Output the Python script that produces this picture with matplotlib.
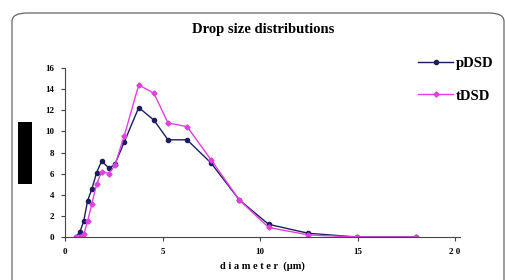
import matplotlib.pyplot as plt
from matplotlib.patches import FancyBboxPatch, Rectangle

# values
diameter = [0.56, 0.77, 0.96, 1.16, 1.37, 1.62, 1.88, 2.26, 2.56, 3.04, 3.78,
            4.56, 5.28, 6.26, 7.49, 8.94, 10.44, 12.48, 14.96, 17.97]
pdsd = [0.0, 0.5, 1.5, 3.45, 4.5, 6.1, 7.2, 6.5, 6.9, 9.0, 12.26,
        11.06, 9.2, 9.2, 7.0, 3.5, 1.2, 0.35, 0.0, 0.0]
tdsd = [0.0, 0.0, 0.25, 1.5, 3.1, 5.0, 6.2, 6.0, 6.8, 9.6, 14.4,
        13.6, 10.8, 10.45, 7.3, 3.5, 0.9, 0.2, 0.0, 0.0]
x_ticks = [0, 5, 10, 15, 20]
x_ticklabels = ["0", "5", "10", "15", "2 0"]
y_ticks = [0, 2, 4, 6, 8, 10, 12, 14, 16]

plt.rcParams['font.family'] = ['Liberation Serif', 'DejaVu Serif']

fig = plt.figure(figsize=(5.06, 2.80), dpi=100)
fig.patch.set_facecolor('white')

# rounded chart frame
frame = FancyBboxPatch((12 / 506, -0.05), 492 / 506, 1 - 13 / 280 + 0.05,
                       boxstyle="round,pad=0,rounding_size=0.03",
                       transform=fig.transFigure, fill=False,
                       edgecolor='#666666', linewidth=0.9)
fig.patches.append(frame)

# black box over the y-axis title
fig.patches.append(Rectangle((18 / 506, 1 - 184 / 280), 14 / 506, 62 / 280,
                             transform=fig.transFigure, facecolor='black',
                             edgecolor='none'))

ax = fig.add_axes([65 / 506, 1 - 237 / 280, 395 / 506, 169 / 280])

ax.plot(diameter, pdsd, color='#1c1c5e', marker='o', markersize=3.0,
        linewidth=1.0, label='pDSD')
ax.plot(diameter, tdsd, color='#e040e0', marker='D', markersize=2.6,
        linewidth=1.0, label='tDSD')

ax.set_xlim(0, 20.25)
ax.set_ylim(0, 16)
ax.set_xticks(x_ticks)
ax.set_xticklabels(x_ticklabels)
ax.set_yticks(y_ticks)
for lab in ax.get_xticklabels() + ax.get_yticklabels():
    lab.set_fontweight('bold')
    lab.set_fontsize(6.5)
ax.tick_params(axis='both', length=3, width=0.8, color='#444444', pad=5)
ax.spines['top'].set_visible(False)
ax.spines['right'].set_visible(False)
ax.spines['left'].set_color('#444444')
ax.spines['bottom'].set_color('#444444')
ax.patch.set_alpha(0)

ax.set_xlabel('d i a m e t e r  (\u03bcm)', fontsize=7.5, fontweight='bold',
              labelpad=4)

fig.text(263 / 506, 1 - 29 / 280, 'Drop size distributions', ha='center',
         va='center', fontsize=10.5, fontweight='bold')

fig.legend(loc='upper left', bbox_to_anchor=(405 / 506, 1 - 44 / 280),
           frameon=False, prop={'weight': 'bold', 'size': 10.5},
           handlelength=2.4, labelspacing=1.3, handletextpad=0.2)

fig.savefig('out.png', dpi=100)
